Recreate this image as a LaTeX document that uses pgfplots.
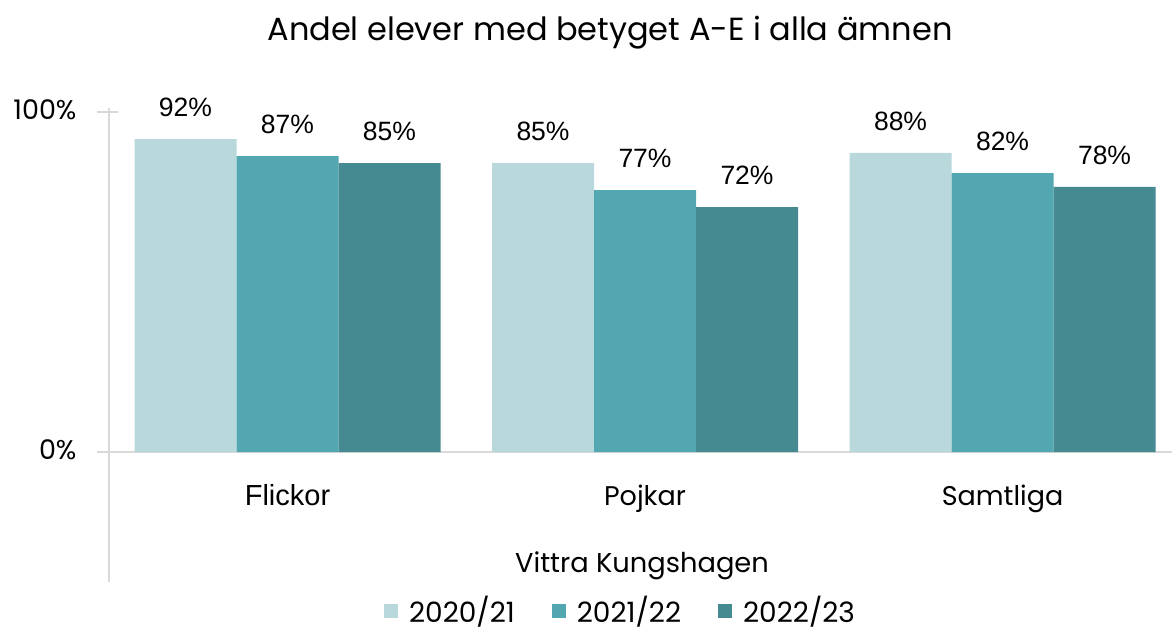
\documentclass[border=0pt]{standalone}
\usepackage{fontspec}
\setmainfont{Poppins}
\newfontfamily\arialfont{Liberation Sans}
\usepackage{pgfplots}
\pgfplotsset{compat=1.18}
\definecolor{c1}{HTML}{B8D8DB}
\definecolor{c2}{HTML}{53A7B0}
\definecolor{c3}{HTML}{448A90}
\definecolor{gridc}{HTML}{D9D9D9}
\begin{document}
\begin{tikzpicture}[x=1pt,y=1pt]
\useasboundingbox (0,0) rectangle (1172,633);
\begin{axis}[
  at={(108.75pt,181pt)}, anchor=south west, scale only axis,
  width=1061.8pt, height=340pt,
  xmin=-0.5, xmax=2.47, ymin=0, ymax=100,
  ybar=0pt, bar width=102pt,
  axis line style={draw=none}, major tick length=0pt,
  xtick={0,1,2}, xticklabels={{\arialfont\fontsize{29}{34}\selectfont Flickor},Pojkar,Samtliga},
  ytick={0,100}, yticklabels={0\%,100\%},
  xticklabel style={anchor=base, yshift=-53pt},
  yticklabel style={anchor=base east, xshift=-28.75pt, yshift=-7pt},
  ticklabel style={font=\fontsize{27}{32}\selectfont},
  clip=false,
  /pgf/number format/assume math mode=true,
  nodes near coords={\pgfmathprintnumber{\pgfplotspointmeta}\%},
  nodes near coords style={font=\arialfont\fontsize{26.5}{30}\selectfont, yshift=19pt, text=black},
  legend style={at={(0.4815,-0.464)}, anchor=center, draw=none, fill=none,
    inner sep=0pt, nodes={inner sep=1pt, text depth=0pt},
    legend columns=3, font=\fontsize{28}{32}\selectfont,
    /tikz/every odd column/.append style={column sep=10pt},
    /tikz/every even column/.append style={column sep=36pt}},
  legend image code/.code={\fill[#1] (0pt,-8pt) rectangle (14pt,6pt);},
]
\draw[gridc, line width=1.6pt] (axis cs:-0.5,101.2) -- (axis cs:-0.5,-38.2);
\draw[gridc, line width=1.6pt] (axis cs:-0.533,100) -- (axis cs:-0.474,100);
\draw[gridc, line width=1.6pt] (axis cs:-0.533,0) -- (axis cs:2.5,0);
\addplot[fill=c1, draw=none] coordinates {(0,92) (1,85) (2,88)};
\addplot[fill=c2, draw=none] coordinates {(0,87) (1,77) (2,82)};
\addplot[fill=c3, draw=none] coordinates {(0,85) (1,72) (2,78)};
\legend{2020/21, 2021/22, 2022/23}
\end{axis}
\node[anchor=base] at (610,592) {\fontsize{32}{38}\selectfont Andel elever med betyget A-E i alla ämnen};
\node[anchor=base] at (642,61) {\fontsize{27.3}{32}\selectfont Vittra Kungshagen};
\end{tikzpicture}
\end{document}
